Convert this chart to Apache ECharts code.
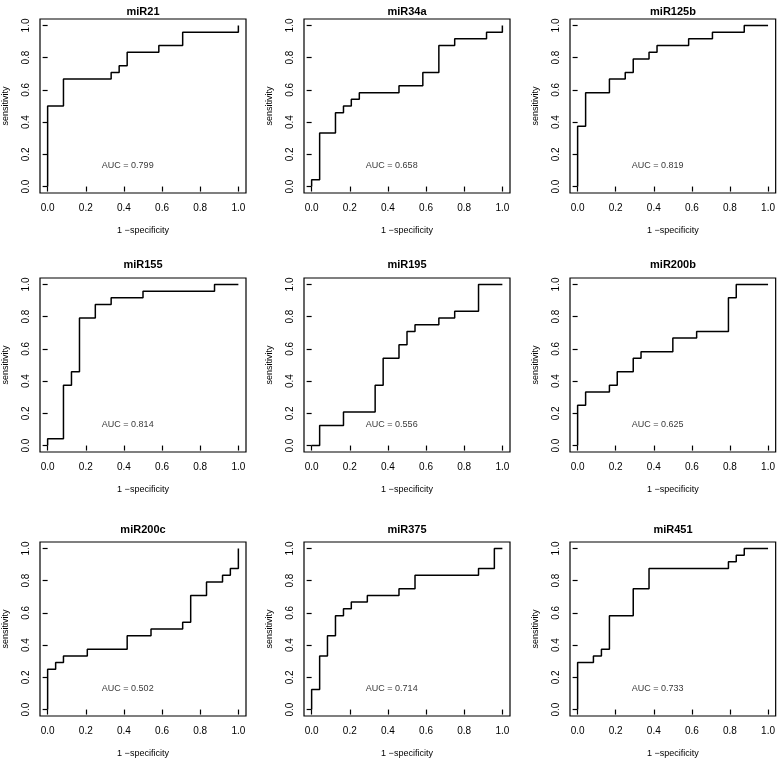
<!DOCTYPE html>
<html>
<head>
<meta charset="utf-8">
<script src="https://cdn.jsdelivr.net/npm/echarts@6/dist/echarts.min.js"></script>
<style>html,body{margin:0;padding:0;background:#fff}#c{width:778px;height:760px}</style>
</head>
<body>
<div id="c"></div>
<script>
const titles = ["miR21","miR34a","miR125b","miR155","miR195","miR200b","miR200c","miR375","miR451"];
const aucLabels = ["AUC = 0.799","AUC = 0.658","AUC = 0.819","AUC = 0.814","AUC = 0.556","AUC = 0.625","AUC = 0.502","AUC = 0.714","AUC = 0.733"];
const tickValues = [0, 0.2, 0.4, 0.6, 0.8, 1.0];

const fpr_miR21 = [0,0,.083,.333,.375,.417,.583,.708,1];
const tpr_miR21 = [0,.5,.667,.708,.75,.833,.875,.958,1];
const fpr_miR34a = [0,0,.042,.125,.167,.208,.25,.458,.583,.667,.75,.917,1];
const tpr_miR34a = [0,.042,.333,.458,.5,.542,.583,.625,.708,.875,.917,.958,1];
const fpr_miR125b = [0,0,.042,.167,.25,.292,.375,.417,.583,.708,.875,1];
const tpr_miR125b = [0,.375,.583,.667,.708,.792,.833,.875,.917,.958,1,1];
const fpr_miR155 = [0,0,.083,.125,.167,.25,.333,.5,.875,1];
const tpr_miR155 = [0,.042,.375,.458,.792,.875,.917,.958,1,1];
const fpr_miR195 = [0,.042,.167,.333,.375,.458,.5,.542,.667,.75,.875,1];
const tpr_miR195 = [0,.125,.208,.375,.542,.625,.708,.75,.792,.833,1,1];
const fpr_miR200b = [0,0,.042,.167,.208,.292,.333,.5,.625,.792,.833,1];
const tpr_miR200b = [0,.25,.333,.375,.458,.542,.583,.667,.708,.917,1,1];
const fpr_miR200c = [0,0,.042,.083,.208,.417,.542,.708,.75,.833,.917,.958,1];
const tpr_miR200c = [0,.25,.292,.333,.375,.458,.5,.542,.708,.792,.833,.875,1];
const fpr_miR375 = [0,0,.042,.083,.125,.167,.208,.292,.458,.542,.875,.958,1];
const tpr_miR375 = [0,.125,.333,.458,.583,.625,.667,.708,.75,.833,.875,1,1];
const fpr_miR451 = [0,0,.083,.125,.167,.292,.375,.792,.833,.875,1];
const tpr_miR451 = [0,.292,.333,.375,.583,.75,.875,.917,.958,1,1];

const fprs = [fpr_miR21,fpr_miR34a,fpr_miR125b,fpr_miR155,fpr_miR195,fpr_miR200b,fpr_miR200c,fpr_miR375,fpr_miR451];
const tprs = [tpr_miR21,tpr_miR34a,tpr_miR125b,tpr_miR155,tpr_miR195,tpr_miR200b,tpr_miR200c,tpr_miR375,tpr_miR451];
const aucPos = [0.42, 0.13];

const colLeft = [40, 304, 570];
const rowTop = [19, 278, 542];
const titleY = [12, 265, 530];
const boxW = 206, boxH = 174;
const FONT = "Liberation Sans";

const grids = [], xAxes = [], yAxes = [], series = [], titleOpts = [];
for (let i = 0; i < 9; i++) {
  const r = Math.floor(i / 3), c = i % 3;
  grids.push({left: colLeft[c], top: rowTop[r], width: boxW, height: boxH, show: true, borderColor: '#000', borderWidth: 1.2, backgroundColor: 'transparent'});
  const axBase = {
    type: 'value', gridIndex: i, min: -0.04, max: 1.04,
    splitLine: {show: false}, axisLine: {show: false},
    axisTick: {show: true, length: 5, lineStyle: {color: '#000', width: 1.2}, customValues: tickValues},
    axisLabel: {show: true, customValues: tickValues, formatter: v => v.toFixed(1), color: '#000', fontFamily: FONT, fontSize: 10, margin: 10},
    nameLocation: 'middle', nameTextStyle: {color: '#000', fontFamily: FONT, fontSize: 9}
  };
  xAxes.push(Object.assign({}, axBase, {name: '1 \u2212specificity', nameGap: 33}));
  yAxes.push(Object.assign({}, axBase, {name: 'sensitivity', nameGap: 30, nameRotate: 90,
    axisLabel: Object.assign({}, axBase.axisLabel, {rotate: 90, margin: 9})}));
  series.push({
    type: 'line', xAxisIndex: i, yAxisIndex: i, step: 'end', symbol: 'none', silent: true,
    lineStyle: {color: '#000', width: 1.5},
    data: fprs[i].map((v, k) => [v, tprs[i][k]])
  });
  series.push({
    type: 'scatter', xAxisIndex: i, yAxisIndex: i, symbolSize: 0, silent: true,
    data: [aucPos],
    label: {show: true, position: 'inside', formatter: aucLabels[i], color: '#000', fontFamily: FONT, fontSize: 9}
  });
  titleOpts.push({text: titles[i], left: colLeft[c] + boxW / 2, top: titleY[r] - 6, textAlign: 'center', padding: 0,
    textStyle: {color: '#000', fontFamily: FONT, fontSize: 11, fontWeight: 'bold'}});
}

const chart = echarts.init(document.getElementById('c'), null, {renderer: 'canvas'});
chart.setOption({
  backgroundColor: '#fff',
  animation: false,
  title: titleOpts,
  grid: grids,
  xAxis: xAxes,
  yAxis: yAxes,
  series: series
});
</script>
</body>
</html>
